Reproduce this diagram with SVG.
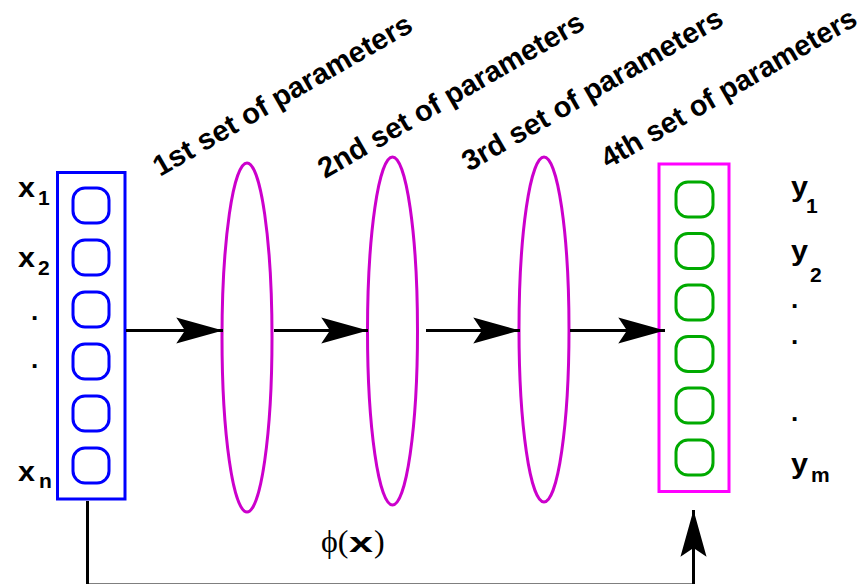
<svg xmlns="http://www.w3.org/2000/svg" width="867" height="584" viewBox="0 0 867 584">
<defs>
<style>
.lbl{font-family:"Liberation Sans",Arial,sans-serif;font-weight:bold;fill:#000}
.rot{font-family:"Liberation Sans",Arial,sans-serif;font-weight:bold;font-size:29px;fill:#000}
.sub{font-family:"Liberation Sans",Arial,sans-serif;font-weight:bold;font-size:21px;fill:#000}
.bnode{fill:none;stroke:#0000ff;stroke-width:3}
.gnode{fill:none;stroke:#00aa00;stroke-width:3}
.ell{fill:none;stroke:#cc00cc;stroke-width:3}
.conn{fill:none;stroke:#000;stroke-width:3}
</style>
<marker id="ah" markerUnits="userSpaceOnUse" markerWidth="50" markerHeight="30" viewBox="-44 -13 46 26" refX="0" refY="0" orient="auto">
<path d="M0,0 L-43,-12 L-35,0 L-43,12 Z" fill="#000"/>
</marker>
</defs>
<rect width="867" height="584" fill="#fff"/>

<g id="input-layer">
<rect x="57.5" y="172.5" width="67.5" height="326.5" fill="none" stroke="#0000ff" stroke-width="3"/>
<rect class="bnode" x="73" y="188" width="36" height="35" rx="12"/>
<rect class="bnode" x="73" y="240" width="36" height="35" rx="12"/>
<rect class="bnode" x="73" y="292" width="36" height="35" rx="12"/>
<rect class="bnode" x="73" y="344" width="36" height="35" rx="12"/>
<rect class="bnode" x="73" y="396" width="36" height="35" rx="12"/>
<rect class="bnode" x="73" y="448" width="36" height="35" rx="12"/>
</g>

<g id="input-labels">
<text class="lbl" font-size="27" x="18" y="197" textLength="17" lengthAdjust="spacingAndGlyphs">x</text>
<text class="sub" x="38" y="205">1</text>
<text class="lbl" font-size="27" x="18" y="267" textLength="17" lengthAdjust="spacingAndGlyphs">x</text>
<text class="sub" x="38" y="275">2</text>
<text class="lbl" font-size="26" x="31" y="320">.</text>
<text class="lbl" font-size="26" x="31" y="368">.</text>
<text class="lbl" font-size="27" x="18" y="481" textLength="17" lengthAdjust="spacingAndGlyphs">x</text>
<text class="sub" x="39" y="488">n</text>
</g>

<g id="param-set-1">
<ellipse class="ell" cx="247" cy="337.5" rx="25" ry="174.5"/>
<text class="rot" transform="translate(160,177) rotate(-30)" textLength="294" lengthAdjust="spacingAndGlyphs">1st set of parameters</text>
</g>
<g id="param-set-2">
<ellipse class="ell" cx="392.5" cy="331" rx="25" ry="174"/>
<text class="rot" transform="translate(325,179) rotate(-30)" textLength="302" lengthAdjust="spacingAndGlyphs">2nd set of parameters</text>
</g>
<g id="param-set-3">
<ellipse class="ell" cx="544" cy="329.5" rx="25" ry="172.5"/>
<text class="rot" transform="translate(469,172) rotate(-30)" textLength="296" lengthAdjust="spacingAndGlyphs">3rd set of parameters</text>
</g>

<g id="output-layer">
<rect x="659" y="164" width="70" height="327.5" fill="none" stroke="#ff00ff" stroke-width="3"/>
<rect class="gnode" x="676" y="182" width="37" height="35" rx="12"/>
<rect class="gnode" x="676" y="233.5" width="37" height="35" rx="12"/>
<rect class="gnode" x="676" y="285" width="37" height="35" rx="12"/>
<rect class="gnode" x="676" y="336.5" width="37" height="35" rx="12"/>
<rect class="gnode" x="676" y="388" width="37" height="35" rx="12"/>
<rect class="gnode" x="676" y="440" width="37" height="35" rx="12"/>
<text class="rot" transform="translate(608,169) rotate(-30)" textLength="290" lengthAdjust="spacingAndGlyphs">4th set of parameters</text>
</g>

<g id="output-labels">
<text class="lbl" font-size="28" x="791" y="196" textLength="17" lengthAdjust="spacingAndGlyphs">y</text>
<text class="sub" x="806" y="213">1</text>
<text class="lbl" font-size="28" x="791" y="260" textLength="17" lengthAdjust="spacingAndGlyphs">y</text>
<text class="sub" x="810" y="282">2</text>
<text class="lbl" font-size="26" x="791" y="308">.</text>
<text class="lbl" font-size="26" x="791" y="344">.</text>
<text class="lbl" font-size="26" x="791" y="421">.</text>
<text class="lbl" font-size="28" x="791" y="473" textLength="17" lengthAdjust="spacingAndGlyphs">y</text>
<text class="sub" x="811" y="482">m</text>
</g>

<g id="connectors">
<line class="conn" x1="126" y1="330.5" x2="223" y2="330.5" marker-end="url(#ah)"/>
<line class="conn" x1="274" y1="330.5" x2="368" y2="330.5" marker-end="url(#ah)"/>
<line class="conn" x1="426" y1="330.5" x2="520" y2="330.5" marker-end="url(#ah)"/>
<line class="conn" x1="570" y1="330.5" x2="665" y2="330.5" marker-end="url(#ah)"/>
<path class="conn" d="M87.5,501 V585 H693.5 V510" marker-end="url(#ah)"/>
<text x="321" y="552" font-size="32" fill="#000"><tspan font-family="'Liberation Serif',serif">ϕ(</tspan><tspan x="349" font-family="'Liberation Sans',Arial,sans-serif" font-weight="bold" font-size="28" textLength="24" lengthAdjust="spacingAndGlyphs">x</tspan><tspan x="374" font-family="'Liberation Serif',serif">)</tspan></text>
</g>
</svg>
